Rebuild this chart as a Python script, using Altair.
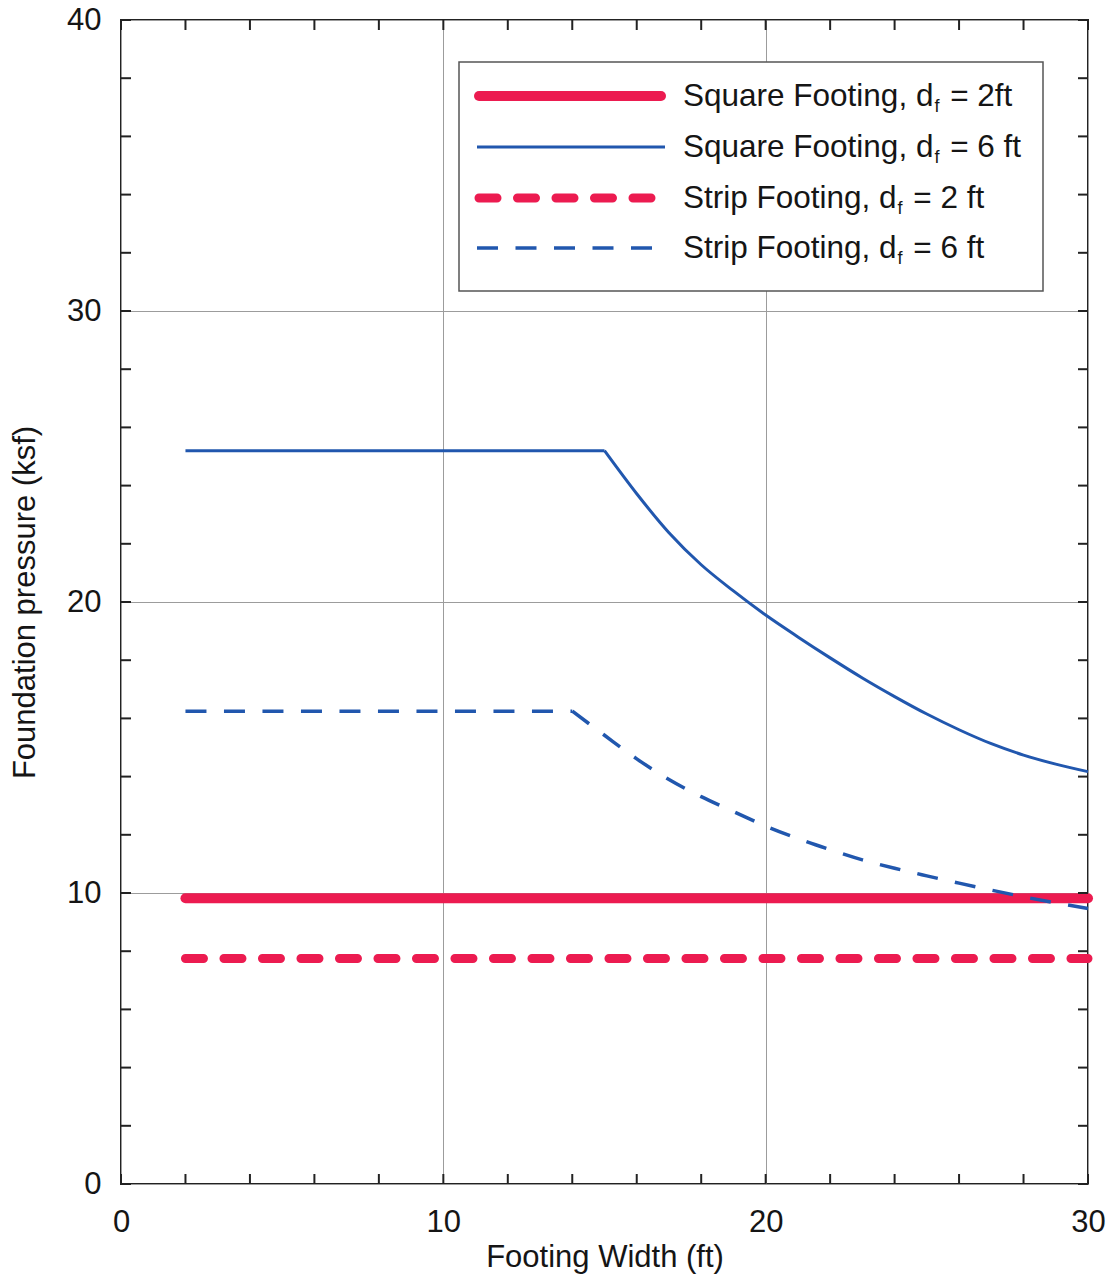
import altair as alt
import pandas as pd

# ---------------- data ----------------
sq2_x = [2, 30]
sq2_y = [9.82, 9.82]

strip2_x = [2, 30]
strip2_y = [7.75, 7.75]

# square footing, d_f = 6 ft : plateau, then decreasing branch
sq6_flat_x = [2, 15]
sq6_flat_y = [25.2, 25.2]
sq6_curve_x = [15, 16, 17, 18, 19, 20, 21, 22, 23, 24, 25, 26, 27, 28, 29, 30]
sq6_curve_y = [25.2, 23.72, 22.38, 21.28, 20.38, 19.55, 18.8, 18.08, 17.39,
               16.75, 16.15, 15.61, 15.13, 14.74, 14.43, 14.17]

# strip footing, d_f = 6 ft : plateau, then decreasing branch
strip6_flat_x = [2, 14]
strip6_flat_y = [16.25, 16.25]
strip6_curve_x = [14, 15, 16, 17, 18, 19, 20, 21, 22, 23, 24, 25, 26, 27, 28, 29, 30]
strip6_curve_y = [16.25, 15.42, 14.61, 13.9, 13.31, 12.8, 12.3, 11.87, 11.49,
                  11.14, 10.85, 10.59, 10.34, 10.1, 9.87, 9.66, 9.47]

x_labels = [0, 10, 20, 30]
y_labels = [0, 10, 20, 30, 40]
x_minor = list(range(0, 31, 2))
y_minor = list(range(0, 41, 2))

legend_prefix = ["Square Footing, d", "Square Footing, d", "Strip Footing, d", "Strip Footing, d"]
legend_sub = ["f", "f", "f", "f"]
legend_suffix = ["= 2ft", "= 6 ft", "= 2 ft", "= 6 ft"]

# ---------------- styling ----------------
PAD_TOP = 12
W, H = 967, 1164
RED = "#EC1B50"
BLUE = "#2157AE"
FONT = "Liberation Sans"
FS = 31
INK = "#151515"

xs = alt.Scale(domain=[0, 30], nice=False, zero=False)
ys = alt.Scale(domain=[0, 40], nice=False, zero=False)

xaxis = alt.Axis(values=x_labels, title="Footing Width (ft)", grid=True,
                 gridColor="#9c9c9c", gridWidth=1, ticks=False, domain=False,
                 labelFontSize=FS, labelFont=FONT, labelColor=INK, labelPadding=23,
                 labelFlush=False, format="d",
                 titleFontSize=FS, titleFont=FONT, titleFontWeight="normal",
                 titleColor=INK, titlePadding=5)
yaxis = alt.Axis(values=y_labels, title="Foundation pressure (ksf)", grid=True,
                 gridColor="#9c9c9c", gridWidth=1, ticks=False, domain=False,
                 labelFontSize=FS, labelFont=FONT, labelColor=INK, labelPadding=20,
                 labelFlush=False, format="d",
                 titleFontSize=FS, titleFont=FONT, titleFontWeight="normal",
                 titleColor=INK, titlePadding=25)


def series(xv, yv, color, width, dash=None, cap="butt", interp="linear"):
    df = pd.DataFrame({"x": xv, "y": yv})
    kw = dict(color=color, strokeWidth=width, strokeCap=cap, clip=False,
              interpolate=interp, strokeJoin="round")
    if dash:
        kw["strokeDash"] = dash
    return alt.Chart(df).mark_line(**kw).encode(
        x=alt.X("x:Q", scale=xs, axis=xaxis),
        y=alt.Y("y:Q", scale=ys, axis=yaxis),
    )


lines = [
    series(strip2_x, strip2_y, RED, 9, dash=[18, 20.5], cap="round"),
    series(sq2_x, sq2_y, RED, 10, cap="round"),
    series(strip6_flat_x, strip6_flat_y, BLUE, 3.5, dash=[21, 17.5]),
    series(strip6_curve_x, strip6_curve_y, BLUE, 3.5, dash=[21, 17.5], interp="monotone"),
    series(sq6_flat_x, sq6_flat_y, BLUE, 3),
    series(sq6_curve_x, sq6_curve_y, BLUE, 3, interp="monotone"),
]

# inward ticks on all four sides
xt = pd.DataFrame({"t": x_minor})
yt = pd.DataFrame({"t": y_minor})
TK = 10
tick_kw = dict(color="#222", strokeWidth=2)
ticks = [
    alt.Chart(xt).mark_rule(**tick_kw).encode(
        x=alt.X("t:Q", scale=xs, axis=xaxis), y=alt.value(H), y2=alt.value(H - TK)),
    alt.Chart(xt).mark_rule(**tick_kw).encode(
        x=alt.X("t:Q", scale=xs, axis=xaxis), y=alt.value(0), y2=alt.value(TK)),
    alt.Chart(yt).mark_rule(**tick_kw).encode(
        y=alt.Y("t:Q", scale=ys, axis=yaxis), x=alt.value(0), x2=alt.value(TK)),
    alt.Chart(yt).mark_rule(**tick_kw).encode(
        y=alt.Y("t:Q", scale=ys, axis=yaxis), x=alt.value(W), x2=alt.value(W - TK)),
]

# ---------------- custom legend (with subscript f) ----------------
AW = {'S': 667, 'q': 556, 'u': 556, 'a': 556, 'r': 333, 'e': 556, ' ': 278,
      'F': 611, 'o': 556, 't': 278, 'i': 222, 'n': 556, 'g': 556, ',': 278,
      'd': 556, '=': 584, '2': 556, '6': 556, 'f': 278, 'p': 556}


def tw(s, size):
    return sum(AW.get(c, 556) for c in s) * size / 1000.0


one = pd.DataFrame({"a": [0]})
OFF = 20 - (8 + PAD_TOP)  # keep legend at the same page position
BX0, BX1, BY0, BY1 = 338, 922, 42 + OFF, 271 + OFF
legend = [
    alt.Chart(one).mark_rect(fill="white", stroke="#555", strokeWidth=1.5).encode(
        x=alt.value(BX0), x2=alt.value(BX1), y=alt.value(BY0), y2=alt.value(BY1))
]
row_y = [76 + OFF, 127 + OFF, 178 + OFF, 228 + OFF]
sym_styles = [
    dict(color=RED, strokeWidth=10, strokeCap="round"),
    dict(color=BLUE, strokeWidth=3),
    dict(color=RED, strokeWidth=9, strokeCap="round", strokeDash=[18, 20.5]),
    dict(color=BLUE, strokeWidth=3.5, strokeDash=[21, 17.5]),
]
sym_x0 = [358, 356, 358, 356]
sym_x1 = [540, 544, 540, 540]
TX = 562
LFS = 31.5
SUBFS = 18
for i in range(4):
    legend.append(alt.Chart(one).mark_rule(**sym_styles[i]).encode(
        x=alt.value(sym_x0[i]), x2=alt.value(sym_x1[i]), y=alt.value(row_y[i])))
    base = row_y[i] + 10
    w_pre = tw(legend_prefix[i], LFS)
    sx = TX + w_pre + 1
    ex = sx + tw(legend_sub[i], SUBFS) + tw(" ", LFS) + 2
    txt_kw = dict(align="left", baseline="alphabetic", font=FONT, color=INK)
    legend.append(alt.Chart(one).mark_text(text=legend_prefix[i], fontSize=LFS, **txt_kw).encode(
        x=alt.value(TX), y=alt.value(base)))
    legend.append(alt.Chart(one).mark_text(text=legend_sub[i], fontSize=SUBFS, **txt_kw).encode(
        x=alt.value(sx), y=alt.value(base + 6)))
    legend.append(alt.Chart(one).mark_text(text=legend_suffix[i], fontSize=LFS, **txt_kw).encode(
        x=alt.value(ex), y=alt.value(base)))

chart = alt.layer(*lines, *ticks, *legend).properties(
    width=W, height=H,
    autosize=alt.AutoSizeParams(type="none"),
    padding={"left": 113, "top": PAD_TOP, "right": 18, "bottom": 94},
    background="white",
).configure_view(stroke="#222", strokeWidth=2)

chart.save("out.html", embed_options={"renderer": "svg", "actions": False})
